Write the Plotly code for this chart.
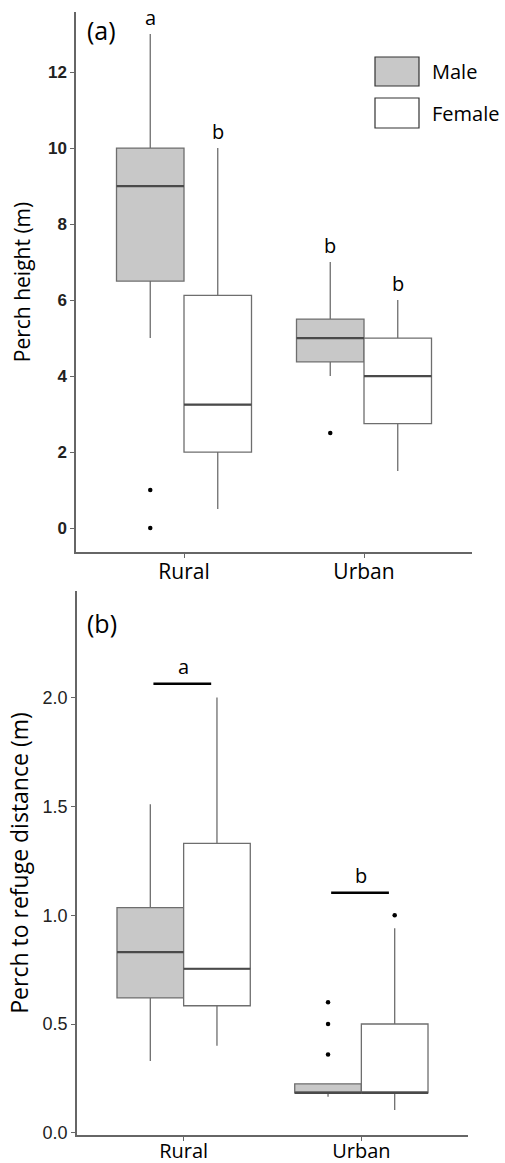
import plotly.graph_objects as go

# ---------------- data ----------------
sites = ["Rural", "Urban"]
sexes = ["Male", "Female"]

# Panel (a): perch height (m)
h_male_low = [5.0, 4.0]
h_male_q1 = [6.5, 4.375]
h_male_med = [9.0, 5.0]
h_male_q3 = [10.0, 5.5]
h_male_high = [13.0, 7.0]
h_male_out = [[1.0, 0.0], [2.5]]

h_female_low = [0.5, 1.5]
h_female_q1 = [2.0, 2.75]
h_female_med = [3.25, 4.0]
h_female_q3 = [6.125, 5.0]
h_female_high = [10.0, 6.0]
h_female_out = [[], []]

h_letters_male = ["a", "b"]
h_letters_female = ["b", "b"]

# Panel (b): perch to refuge distance (m)
d_male_low = [0.33, 0.166]
d_male_q1 = [0.62, 0.184]
d_male_med = [0.83, 0.184]
d_male_q3 = [1.035, 0.225]
d_male_high = [1.51, 0.225]
d_male_out = [[], [0.60, 0.50, 0.36]]

d_female_low = [0.40, 0.105]
d_female_q1 = [0.584, 0.184]
d_female_med = [0.754, 0.184]
d_female_q3 = [1.33, 0.50]
d_female_high = [2.0, 0.94]
d_female_out = [[], [1.0]]

d_letters = ["a", "b"]
d_letter_y = [2.064, 1.103]

y_ticks_a = [0, 2, 4, 6, 8, 10, 12]
y_ticks_b = [0.0, 0.5, 1.0, 1.5, 2.0]

# ---------------- style ----------------
W, H = 505, 1163
ML, MR, MT, MB = 76, 33, 12, 28
BOXW = 0.375
OFF = {"Male": -BOXW / 2, "Female": BOXW / 2}
FILL = {"Male": "#c8c8c8", "Female": "#ffffff"}
LINE_C = "#6e6e6e"
MED_C = "#4a4a4a"
AXIS_C = "#666666"
TXT_FONT = "Open Sans, Calibri, sans-serif"
NUM_FONT = "Liberation Sans, Arial, sans-serif"

fig = go.Figure()


def add_panel(sex, low, q1, med, q3, high, outs, xa, ya):
    xs = [i + OFF[sex] for i in range(len(sites))]
    fig.add_trace(go.Box(
        x=xs, q1=q1, median=med, q3=q3, lowerfence=low, upperfence=high,
        width=BOXW, fillcolor=FILL[sex], line=dict(color=LINE_C, width=1.3),
        whiskerwidth=0, boxpoints=False, showlegend=False, name=sex,
        xaxis=xa, yaxis=ya, hoverinfo="skip"))
    mx, my = [], []
    for x, m in zip(xs, med):
        mx += [x - BOXW / 2, x + BOXW / 2, None]
        my += [m, m, None]
    fig.add_trace(go.Scatter(x=mx, y=my, mode="lines",
                             line=dict(color=MED_C, width=2.2),
                             showlegend=False, hoverinfo="skip",
                             xaxis=xa, yaxis=ya))
    ox, oy = [], []
    for x, o in zip(xs, outs):
        ox += [x] * len(o)
        oy += o
    if ox:
        fig.add_trace(go.Scatter(x=ox, y=oy, mode="markers",
                                 marker=dict(color="black", size=4.5),
                                 showlegend=False, hoverinfo="skip",
                                 xaxis=xa, yaxis=ya))
    return xs


xm = add_panel("Male", h_male_low, h_male_q1, h_male_med, h_male_q3, h_male_high, h_male_out, "x", "y")
xf = add_panel("Female", h_female_low, h_female_q1, h_female_med, h_female_q3, h_female_high, h_female_out, "x", "y")
add_panel("Male", d_male_low, d_male_q1, d_male_med, d_male_q3, d_male_high, d_male_out, "x2", "y2")
add_panel("Female", d_female_low, d_female_q1, d_female_med, d_female_q3, d_female_high, d_female_out, "x2", "y2")

annotations = []
# letters panel (a)
for xs, highs, letters in [(xm, h_male_high, h_letters_male), (xf, h_female_high, h_letters_female)]:
    for x, hv, lt in zip(xs, highs, letters):
        annotations.append(dict(x=x, y=hv, xref="x", yref="y", text=lt, showarrow=False,
                                yanchor="bottom", yshift=1,
                                font=dict(family=TXT_FONT, size=20, color="black")))

# letters + bars panel (b)
shapes = []
for i, (lt, yv) in enumerate(zip(d_letters, d_letter_y)):
    shapes.append(dict(type="line", xref="x2", yref="y2", x0=i - 0.17, x1=i + 0.155,
                       y0=yv, y1=yv, line=dict(color="black", width=2.5)))
    annotations.append(dict(x=i, y=yv, xref="x2", yref="y2", text=lt, showarrow=False,
                            yanchor="bottom", yshift=2,
                            font=dict(family=TXT_FONT, size=20, color="black")))

PW = W - ML - MR
PH = H - MT - MB


def px(xp):
    return (xp - ML) / PW


def py(yp):
    return (H - MB - yp) / PH


# panel labels
annotations.append(dict(x=px(85), y=py(30), xref="paper", yref="paper", text="(a)",
                        showarrow=False, xanchor="left", yanchor="middle",
                        font=dict(family=TXT_FONT, size=25, color="black")))
annotations.append(dict(x=px(85), y=py(623), xref="paper", yref="paper", text="(b)",
                        showarrow=False, xanchor="left", yanchor="middle",
                        font=dict(family=TXT_FONT, size=25, color="black")))

# legend (drawn manually to get large key boxes)
for sex, (y0, y1) in zip(sexes, [(57, 86), (98, 128)]):
    shapes.append(dict(type="rect", xref="paper", yref="paper",
                       x0=px(375), x1=px(419), y0=py(y1), y1=py(y0),
                       fillcolor=FILL[sex], line=dict(color="#333333", width=1.2)))
    annotations.append(dict(x=px(430), y=py((y0 + y1) / 2), xref="paper", yref="paper",
                            text=sex, showarrow=False, xanchor="left", yanchor="middle",
                            font=dict(family=TXT_FONT, size=20, color="black")))

axis_common = dict(showline=True, linecolor=AXIS_C, linewidth=1.5, ticks="outside",
                   ticklen=4, tickcolor=AXIS_C, tickwidth=1.3, showgrid=False,
                   zeroline=False, automargin=False, mirror=False)

top_dom = [py(552), 1.0]
bot_dom = [0.0, py(591)]

fig.update_layout(
    width=W, height=H, margin=dict(l=ML, r=MR, t=MT, b=MB),
    paper_bgcolor="white", plot_bgcolor="white", boxmode="overlay", showlegend=False,
    xaxis=dict(axis_common, domain=[0, 1], anchor="y", range=[-0.6, 1.6],
               tickvals=[0, 1], ticktext=sites, ticklabelstandoff=-4,
               tickfont=dict(family=TXT_FONT, size=21, color="black")),
    yaxis=dict(axis_common, domain=top_dom, anchor="x", range=[-0.63, 13.58],
               tickvals=y_ticks_a, ticktext=[str(v) for v in y_ticks_a],
               tickfont=dict(family=NUM_FONT, size=17, color="#222222", weight="bold"),
               title=dict(text="Perch height (m)", standoff=12,
                          font=dict(family=TXT_FONT, size=21, color="black"))),
    xaxis2=dict(axis_common, domain=[px(77), px(468)], anchor="y2", range=[-0.6, 1.6],
                tickvals=[0, 1], ticktext=sites, ticklabelstandoff=-7,
                tickfont=dict(family=TXT_FONT, size=20, color="black")),
    yaxis2=dict(axis_common, domain=bot_dom, anchor="x2", range=[-0.01, 2.49],
                tickvals=y_ticks_b, ticktext=[f"{v:.1f}" for v in y_ticks_b],
                tickfont=dict(family=NUM_FONT, size=18, color="#222222"),
                title=dict(text="Perch to refuge distance (m)", standoff=8,
                           font=dict(family=TXT_FONT, size=23, color="black"))),
    shapes=shapes, annotations=annotations,
)

fig.write_html("out.html", config={"displayModeBar": False},
               post_script="document.body.style.margin='0';")
